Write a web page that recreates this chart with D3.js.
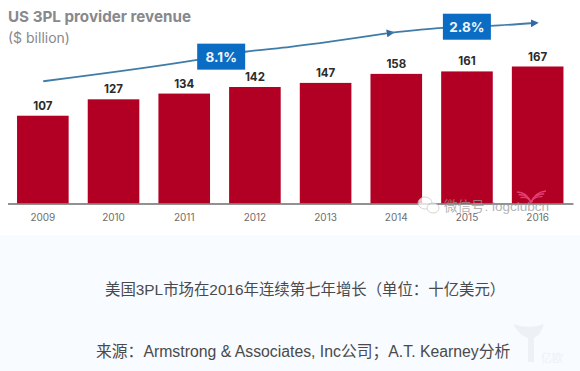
<!DOCTYPE html>
<html>
<head>
<meta charset="utf-8">
<script src="https://cdn.jsdelivr.net/npm/d3@7"></script>
<style>
  html, body { margin: 0; padding: 0; background: #fff; }
  svg { display: block; }
  text { font-family: Inter, "Noto Sans", sans-serif; }
  .cjk { font-family: "Liberation Sans", "Noto Sans CJK SC", sans-serif; }
</style>
</head>
<body>
<div id="chart"></div>
<script>
const years = ["2009", "2010", "2011", "2012", "2013", "2014", "2015", "2016"];
const revenue = [107, 127, 134, 142, 147, 158, 161, 167];

// trend arrow above the bars in [year, $ billion]
const trendYears = [2009, 2011.18, 2011.86, 2012.5, 2013.91, 2014.66, 2015.33, 2015.95];
const trendValues = [149, 175, 185, 191, 208, 214, 216.5, 220];
const growthLabels = ["8.1%", "2.8%"];
const growthYears = [2011.52, 2015];
const growthValues = [179, 215.5];

const w = 580, h = 371;
const svg = d3.select("#chart").append("svg").attr("width", w).attr("height", h);

const x = d3.scaleBand().domain(years).range([7.5, 573]).paddingInner(0.27).paddingOuter(0.135);
const y = d3.scaleLinear().domain([0, 167]).range([203.5, 66.5]);
const xYear = d3.scaleLinear().domain([2009, 2016]).range([43.25, 537.5]);

svg.append("rect").attr("width", w).attr("height", h).attr("fill", "#fff");
svg.append("rect").attr("y", 235).attr("width", w).attr("height", h - 235).attr("fill", "#f8fbff");

svg.append("defs").append("marker")
  .attr("id", "head")
  .attr("viewBox", "0 0 10 10")
  .attr("refX", 4).attr("refY", 5)
  .attr("markerWidth", 8).attr("markerHeight", 8)
  .attr("markerUnits", "userSpaceOnUse")
  .attr("orient", "auto")
  .append("path").attr("d", "M0,0L10,5L0,10z").attr("fill", "#2f6aa3");

// title
svg.append("text").attr("x", 8).attr("y", 22)
  .attr("font-size", 15.2).attr("font-weight", 700).attr("fill", "#87898c")
  .text("US 3PL provider revenue");
svg.append("text").attr("x", 8).attr("y", 43)
  .attr("font-size", 14).attr("fill", "#87898c")
  .text("($ billion)");

// bars
svg.append("g").selectAll("rect").data(years).join("rect")
  .attr("x", d => x(d))
  .attr("width", x.bandwidth())
  .attr("y", (d, i) => y(revenue[i]))
  .attr("height", (d, i) => y(0) - y(revenue[i]))
  .attr("fill", "#b20025");

svg.append("g").selectAll("text").data(years).join("text")
  .attr("x", d => x(d) + x.bandwidth() / 2)
  .attr("y", (d, i) => y(revenue[i]) - 6)
  .attr("text-anchor", "middle")
  .attr("font-size", 11.5).attr("font-weight", 700).attr("fill", "#2b2b2b")
  .text((d, i) => revenue[i]);

// axis
const axis = svg.append("g").attr("transform", `translate(0,${y(0)})`)
  .call(d3.axisBottom(x).tickSize(0).tickPadding(10));
axis.select(".domain").attr("stroke", "#6d6d6d").attr("stroke-width", 1.5);
axis.selectAll("text").attr("font-size", 10).attr("font-family", "Inter, sans-serif").attr("fill", "#6e6e6e");

// trend line, arrowheads at 2014 and at the end
const line = d3.line().x(d => xYear(d[0])).y(d => y(d[1])).curve(d3.curveMonotoneX);
const trend = trendYears.map((t, i) => [t, trendValues[i]]);
svg.append("path").attr("d", line(trend.slice(0, 5)))
  .attr("fill", "none").attr("stroke", "#3f7ca8").attr("stroke-width", 1.8).attr("marker-end", "url(#head)");
svg.append("path").attr("d", line(trend.slice(4)))
  .attr("fill", "none").attr("stroke", "#3f7ca8").attr("stroke-width", 1.8).attr("marker-end", "url(#head)");

// growth boxes
const boxes = svg.append("g").selectAll("g").data(growthLabels).join("g")
  .attr("transform", (d, i) => `translate(${xYear(growthYears[i])},${y(growthValues[i])})`);
boxes.append("rect").attr("x", -24).attr("y", -13).attr("width", 48).attr("height", 26).attr("fill", "#0b6cc4");
boxes.append("text").attr("y", 5).attr("text-anchor", "middle")
  .attr("font-size", 13.5).attr("font-weight", 700).attr("fill", "#eef5fb")
  .text(d => d);

// wechat watermark
const wm = svg.append("g").attr("opacity", 0.75);
wm.append("ellipse").attr("cx", 425).attr("cy", 203).attr("rx", 7).attr("ry", 6).attr("fill", "#fff").attr("stroke", "#c9c9c9");
wm.append("ellipse").attr("cx", 433).attr("cy", 208).attr("rx", 6).attr("ry", 5).attr("fill", "#fff").attr("stroke", "#c9c9c9");
wm.append("text").attr("class", "cjk").attr("x", 444).attr("y", 211)
  .attr("font-size", 13.5).attr("fill", "#9a9a9a").text("微信号: logclubcn");

// pink fan mark on the 2016 bar
const fan = svg.append("g").attr("fill", "none").attr("stroke", "#e8467c").attr("stroke-width", 1.4).attr("opacity", 0.9);
[0, 3.5, 7].forEach(d => {
  fan.append("path").attr("d", `M${517 + d * 0.5},${192 + d * 0.8}Q${527 + d * 0.3},${192 + d * 0.6} 531,203`);
  fan.append("path").attr("d", `M${546 - d * 0.5},${191 + d * 0.8}Q${535 - d * 0.3},${192 + d * 0.6} 531,203`);
});

// captions
svg.append("text").attr("class", "cjk").attr("x", 105).attr("y", 295)
  .attr("font-size", 15.4).attr("fill", "#4a4a4a")
  .text("美国3PL市场在2016年连续第七年增长（单位：十亿美元）");
svg.append("text").attr("class", "cjk").attr("x", 96).attr("y", 357)
  .attr("font-size", 15.8).attr("fill", "#4a4a4a")
  .text("来源：Armstrong & Associates, Inc公司；A.T. Kearney分析");

// yiou watermark, bottom right
const yi = svg.append("g").attr("fill", "#e6ecf1").attr("opacity", 0.6);
yi.append("path").attr("d", "M513,324Q530,330 544,324Q540,336 534,338L534,362L528,362L528,338Q520,336 513,324z");
yi.append("text").attr("class", "cjk").attr("x", 541).attr("y", 362).attr("font-size", 11).text("亿欧");
</script>
</body>
</html>
